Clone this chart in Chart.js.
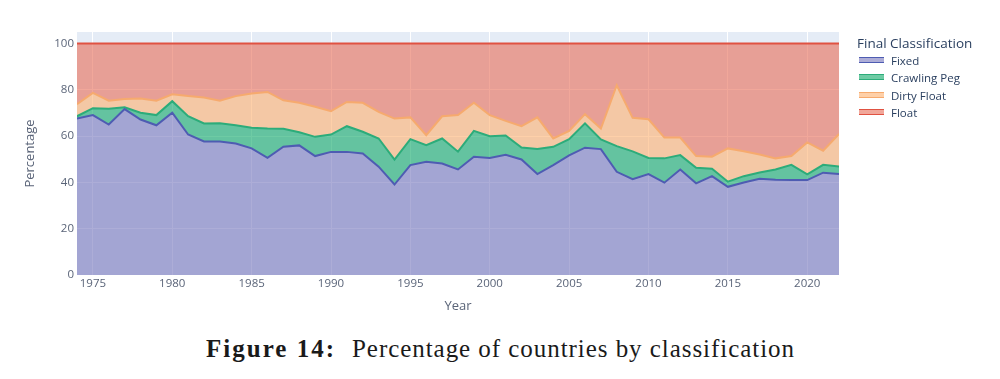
<!DOCTYPE html>
<html><head><meta charset="utf-8">
<script src="https://cdn.jsdelivr.net/npm/chart.js@4.4.1/dist/chart.umd.min.js"></script>
<style>
html,body{margin:0;padding:0;background:#fff;width:1000px;height:379px;overflow:hidden;}
#wrap{position:relative;width:1000px;height:379px;}
#c{position:absolute;left:0;top:0;}
#legend{position:absolute;left:0;top:0;width:1000px;height:140px;font-family:"Open Sans",sans-serif;color:#2a3f5f;}
.ltitle{position:absolute;left:857px;top:34px;font-size:13.5px;line-height:18px;white-space:nowrap;}
.litem{position:absolute;left:859px;height:16px;font-size:11.5px;line-height:16px;white-space:nowrap;}
.lsym{position:absolute;left:0;top:5px;width:25px;height:4px;box-sizing:content-box;}
.ltxt{position:absolute;left:32px;top:0;}
.cap{position:absolute;top:336px;font-family:"Liberation Serif","Times New Roman",serif;font-size:25px;line-height:25px;color:#1a1a1a;white-space:nowrap;}
</style></head>
<body>
<div id="wrap">
<canvas id="c" width="1000" height="320" style="width:1000px;height:320px"></canvas>
<div id="legend"></div>
<span id="cap1" class="cap" style="left:206px;font-weight:bold">Figure 14:</span>
<span id="cap2" class="cap" style="left:352px">Percentage of countries by classification</span>
</div>
<script>
const years = [1974,1975,1976,1977,1978,1979,1980,1981,1982,1983,1984,1985,1986,1987,1988,1989,1990,1991,1992,1993,1994,1995,1996,1997,1998,1999,2000,2001,2002,2003,2004,2005,2006,2007,2008,2009,2010,2011,2012,2013,2014,2015,2016,2017,2018,2019,2020,2021,2022];
const fixed = [67.6,69.1,65.0,71.7,67.2,64.7,70.1,60.7,57.7,57.7, 56.8,54.7,50.6,55.4,56.0,51.4,53.2,53.2,52.5,46.8, 39.1,47.5,48.9,48.2,45.6,51.1,50.6,51.9,49.9,43.6, 47.5,51.7,55.0,54.4,44.6,41.4,43.6,39.9,45.6,39.6, 42.7,38.1,40.0,41.6,41.2,41.0,41.0,44.2,43.6];
const crawlingPeg = [1.0,3.0,6.8,0.8,2.9,4.4,5.0,7.9,7.8,7.9, 7.9,8.9,12.7,7.8,5.7,8.3,7.5,11.1,9.4,12.2, 10.8,11.2,7.2,10.8,7.7,11.2,9.4,8.4,5.2,10.8, 7.9,7.0,10.5,4.2,11.1,12.0,7.0,10.5,6.2,6.7, 3.2,2.2,2.7,2.7,4.4,6.6,2.5,3.4,3.3];
const dirtyFloat = [5.2,6.6,3.5,3.5,6.2,6.2,3.0,8.7,11.2,9.7, 12.6,14.8,15.8,12.3,12.7,13.0,10.1,10.5,12.5,11.5, 17.7,9.4,4.3,9.6,15.8,12.1,9.1,6.3,9.2,13.7, 3.6,3.6,4.0,4.7,26.3,14.5,16.7,9.0,7.6,5.1, 5.2,14.4,10.8,7.8,4.8,3.8,13.8,6.1,14.0];
const float = [26.2,21.3,24.7,24.0,23.7,24.7,21.9,22.7,23.3,24.7, 22.7,21.6,20.9,24.5,25.6,27.3,29.2,25.2,25.6,29.5, 32.4,31.9,39.6,31.4,30.9,25.6,30.9,33.4,35.7,31.9, 41.0,37.7,30.5,36.7,18.0,32.1,32.7,40.6,40.6,48.6, 48.9,45.3,46.5,47.9,49.6,48.6,42.7,46.3,39.1];
const seriesNames = ["Fixed","Crawling Peg","Dirty Float","Float"];
const xTicks = [1975,1980,1985,1990,1995,2000,2005,2010,2015,2020];
const yTicks = [0,20,40,60,80,100];
const legendTitle = "Final Classification";
const xTitle = "Year";
const yTitle = "Percentage";

const lineColors = ["rgb(78,92,178)","rgb(44,172,122)","rgb(246,170,110)","rgb(224,82,66)"];
const fillColors = ["rgba(119,119,189,0.6)","rgba(14,168,103,0.6)","rgba(254,176,111,0.6)","rgba(231,109,86,0.6)"];
const seriesValues = [fixed, crawlingPeg, dirtyFloat, float];

const datasets = seriesValues.map((vals,i)=>({
  label: seriesNames[i],
  data: years.map((yr,j)=>({x:yr,y:vals[j]})),
  borderColor: lineColors[i],
  backgroundColor: fillColors[i],
  borderWidth: 2,
  pointRadius: 0,
  pointHoverRadius: 0,
  tension: 0,
  fill: i===0 ? 'origin' : '-1',
  order: i
}));

const bgPlugin = {
  id:'plotBg',
  beforeDraw(chart){
    const {ctx, chartArea:a} = chart;
    ctx.save();
    ctx.fillStyle = '#E5ECF6';
    ctx.fillRect(a.left, a.top, a.right-a.left, a.bottom-a.top);
    ctx.restore();
  }
};

const tickColor = '#5a6478';
new Chart(document.getElementById('c'), {
  type:'line',
  data:{datasets},
  plugins:[bgPlugin],
  options:{
    responsive:false,
    animation:false,
    events:[],
    layout:{padding:{left:22, top:32, right:161, bottom:6}},
    plugins:{legend:{display:false}, tooltip:{enabled:false}},
    scales:{
      x:{
        type:'linear', min:1974, max:2022,
        afterBuildTicks(s){ s.ticks = xTicks.map(v=>({value:v})); },
        afterFit(s){ s.height = 39; },
        grid:{color:'#ffffff', lineWidth:1, drawTicks:false},
        border:{display:false},
        ticks:{padding:2, color:tickColor, font:{family:'"Open Sans", sans-serif', size:11.5}, callback:v=>String(v), maxRotation:0, autoSkip:false},
        title:{display:true, text:xTitle, color:tickColor, padding:0, font:{family:'"Open Sans", sans-serif', size:13}}
      },
      y:{
        stacked:true, min:0, max:105,
        afterBuildTicks(s){ s.ticks = yTicks.map(v=>({value:v})); },
        afterFit(s){ s.width = 55; },
        grid:{color:'#ffffff', lineWidth:1, drawTicks:false},
        border:{display:false},
        ticks:{padding:3, color:tickColor, font:{family:'"Open Sans", sans-serif', size:11.5}, callback:v=>String(v)},
        title:{display:true, text:yTitle, color:tickColor, padding:0, font:{family:'"Open Sans", sans-serif', size:13}}
      }
    }
  }
});

// legend (HTML text)
const lg = document.getElementById('legend');
const t = document.createElement('div'); t.className='ltitle'; t.textContent = legendTitle; lg.appendChild(t);
const rowCenters = [61,78.3,95.7,112.7];
seriesNames.forEach((n,i)=>{
  const r = document.createElement('div'); r.className='litem'; r.style.top=(rowCenters[i]-8)+'px';
  const s = document.createElement('div'); s.className='lsym';
  s.style.background = fillColors[i]; s.style.borderTop = '1px solid '+lineColors[i]; s.style.borderBottom = '1px solid '+lineColors[i];
  s.style.top = '4px';
  const tx = document.createElement('div'); tx.className='ltxt'; tx.textContent = n;
  r.appendChild(s); r.appendChild(tx); lg.appendChild(r);
});

// fit caption parts to the reference widths via letter spacing
function fitSpan(id, target){
  const el = document.getElementById(id);
  const w = el.getBoundingClientRect().width;
  const n = el.textContent.length;
  el.style.letterSpacing = ((target - w) / n).toFixed(3) + 'px';
}
fitSpan('cap1', 130);
fitSpan('cap2', 443);
</script>
</body></html>
